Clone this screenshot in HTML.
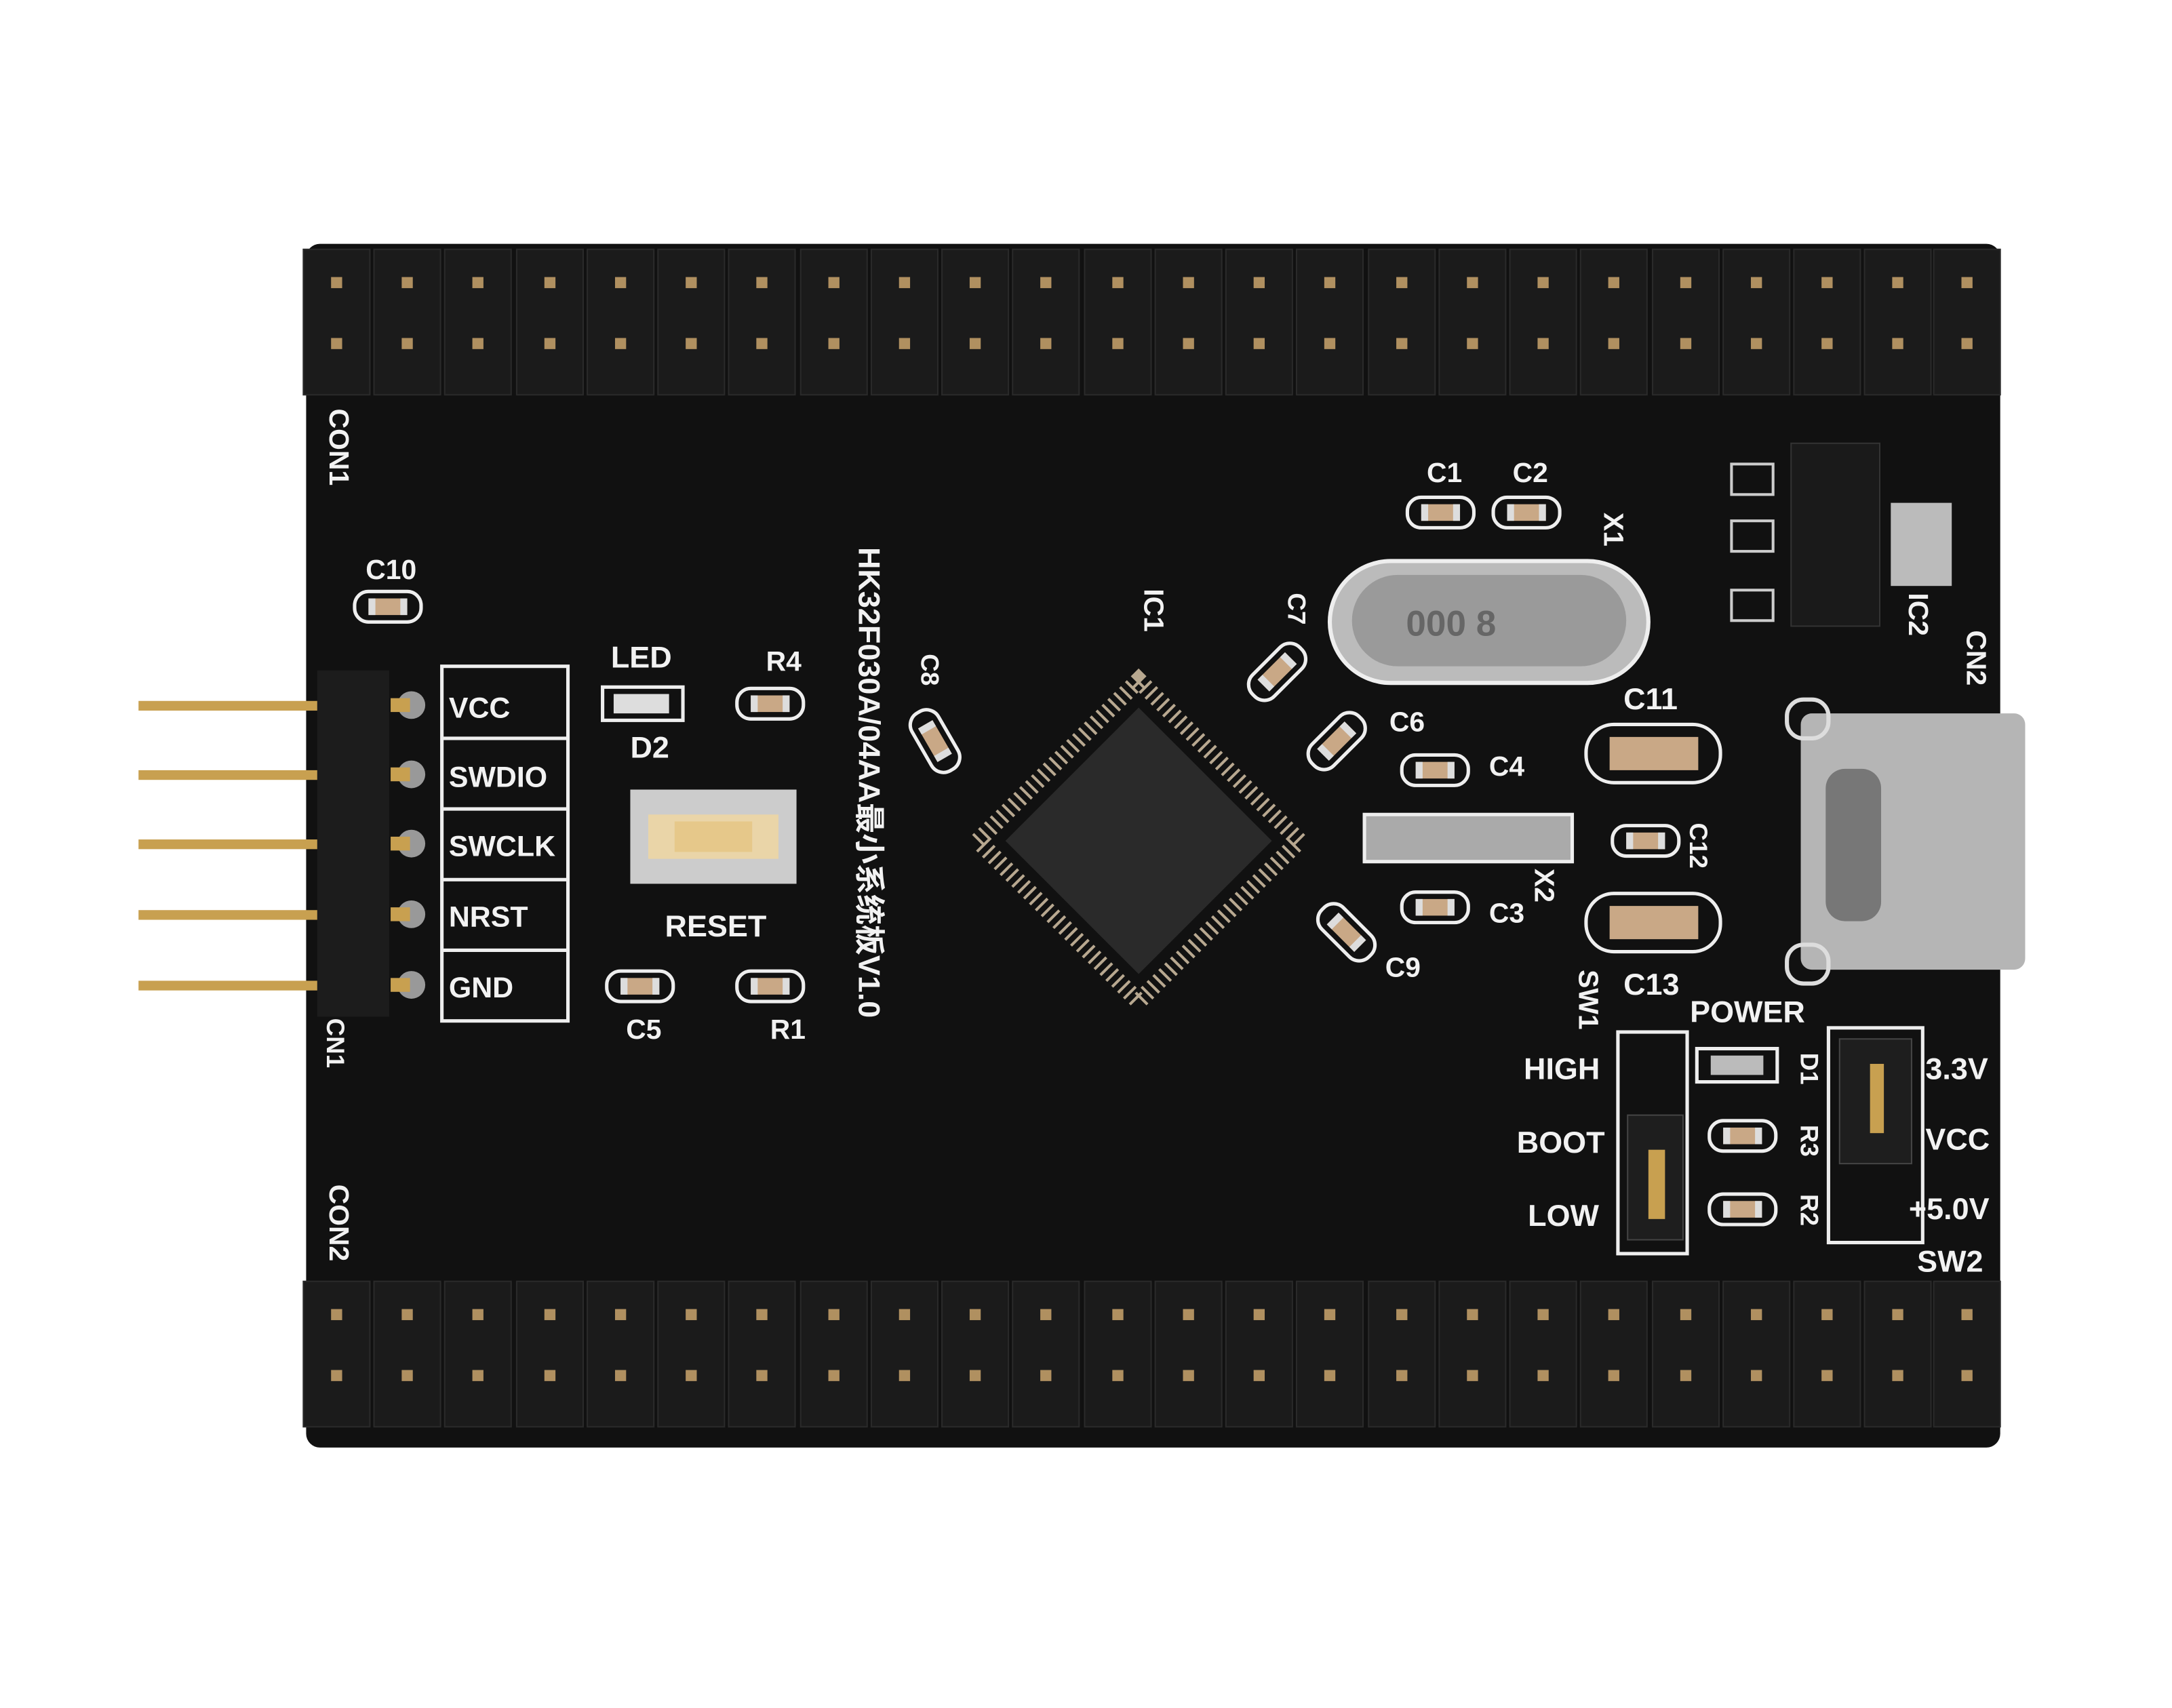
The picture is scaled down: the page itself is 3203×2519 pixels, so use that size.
<!DOCTYPE html>
<html><head><meta charset="utf-8"><style>
html,body{margin:0;padding:0;background:#fff;}
svg{display:block;}
text{font-family:"Liberation Sans","Noto Sans CJK SC",sans-serif;fill:#f2f2f2;font-weight:bold;}
</style></head><body>
<svg width="3203" height="2519" viewBox="0 0 1568 1233" preserveAspectRatio="none" xmlns="http://www.w3.org/2000/svg">
<defs>
<g id="pinT"><rect x="-24" y="0" width="48" height="105" fill="#1b1b1b" stroke="#2a2a2a"/><rect x="-4" y="20" width="8" height="8" fill="#b09060"/><rect x="-4" y="64" width="8" height="8" fill="#b09060"/></g>
<g id="chipcap"><rect x="-24" y="-11" width="48" height="22" rx="10" fill="none" stroke="#eee" stroke-width="2.5"/><rect x="-14" y="-6" width="28" height="12" fill="#c9a886"/><rect x="-14" y="-6" width="5" height="12" fill="#ddd"/><rect x="9" y="-6" width="5" height="12" fill="#ddd"/></g>
</defs>
<rect width="1568" height="1233" fill="#fff"/>
<rect x="221" y="176" width="1223" height="869" rx="10" fill="#111"/>
<g>
<use href="#pinT" x="243" y="180"/><use href="#pinT" x="294" y="180"/><use href="#pinT" x="345" y="180"/><use href="#pinT" x="397" y="180"/><use href="#pinT" x="448" y="180"/><use href="#pinT" x="499" y="180"/><use href="#pinT" x="550" y="180"/><use href="#pinT" x="602" y="180"/><use href="#pinT" x="653" y="180"/><use href="#pinT" x="704" y="180"/><use href="#pinT" x="755" y="180"/><use href="#pinT" x="807" y="180"/><use href="#pinT" x="858" y="180"/><use href="#pinT" x="909" y="180"/><use href="#pinT" x="960" y="180"/><use href="#pinT" x="1012" y="180"/><use href="#pinT" x="1063" y="180"/><use href="#pinT" x="1114" y="180"/><use href="#pinT" x="1165" y="180"/><use href="#pinT" x="1217" y="180"/><use href="#pinT" x="1268" y="180"/><use href="#pinT" x="1319" y="180"/><use href="#pinT" x="1370" y="180"/><use href="#pinT" x="1420" y="180"/>
</g>
<g transform="translate(0,745)">
<use href="#pinT" x="243" y="180"/><use href="#pinT" x="294" y="180"/><use href="#pinT" x="345" y="180"/><use href="#pinT" x="397" y="180"/><use href="#pinT" x="448" y="180"/><use href="#pinT" x="499" y="180"/><use href="#pinT" x="550" y="180"/><use href="#pinT" x="602" y="180"/><use href="#pinT" x="653" y="180"/><use href="#pinT" x="704" y="180"/><use href="#pinT" x="755" y="180"/><use href="#pinT" x="807" y="180"/><use href="#pinT" x="858" y="180"/><use href="#pinT" x="909" y="180"/><use href="#pinT" x="960" y="180"/><use href="#pinT" x="1012" y="180"/><use href="#pinT" x="1063" y="180"/><use href="#pinT" x="1114" y="180"/><use href="#pinT" x="1165" y="180"/><use href="#pinT" x="1217" y="180"/><use href="#pinT" x="1268" y="180"/><use href="#pinT" x="1319" y="180"/><use href="#pinT" x="1370" y="180"/><use href="#pinT" x="1420" y="180"/>
</g>
<text x="0" y="0" font-size="20" transform="translate(238,295) rotate(90)">CON1</text>
<text x="0" y="0" font-size="20" transform="translate(238,855) rotate(90)">CON2</text>
<text x="0" y="0" font-size="18" transform="translate(236,735) rotate(90)">CN1</text>
<g fill="#c8a050">
<rect x="100" y="506" width="130" height="7"/><rect x="100" y="556" width="130" height="7"/><rect x="100" y="606" width="130" height="7"/><rect x="100" y="657" width="130" height="7"/><rect x="100" y="708" width="130" height="7"/>
</g>
<rect x="229" y="484" width="52" height="250" fill="#1c1c1c"/>
<g fill="#999"><circle cx="297" cy="509" r="10"/><circle cx="297" cy="559" r="10"/><circle cx="297" cy="609" r="10"/><circle cx="297" cy="660" r="10"/><circle cx="297" cy="711" r="10"/></g>
<g fill="#c8a050"><rect x="282" y="504" width="14" height="10"/><rect x="282" y="554" width="14" height="10"/><rect x="282" y="604" width="14" height="10"/><rect x="282" y="655" width="14" height="10"/><rect x="282" y="706" width="14" height="10"/></g>
<g fill="none" stroke="#eee" stroke-width="2.5"><rect x="319" y="481" width="91" height="256"/><line x1="319" y1="533" x2="410" y2="533"/><line x1="319" y1="584" x2="410" y2="584"/><line x1="319" y1="635" x2="410" y2="635"/><line x1="319" y1="686" x2="410" y2="686"/></g>
<g font-size="21"><text x="324" y="518">VCC</text><text x="324" y="568">SWDIO</text><text x="324" y="618">SWCLK</text><text x="324" y="669">NRST</text><text x="324" y="720">GND</text></g>
<text x="264" y="418" font-size="20">C10</text><use href="#chipcap" x="280" y="438"/>
<text x="441" y="482" font-size="22">LED</text><text x="455" y="547" font-size="22">D2</text>
<rect x="435" y="496" width="58" height="24" fill="none" stroke="#eee" stroke-width="2.5"/><rect x="443" y="501" width="40" height="14" fill="#ddd"/>
<text x="553" y="484" font-size="20">R4</text><use href="#chipcap" x="556" y="508"/>
<rect x="455" y="570" width="120" height="68" fill="#ccc"/><rect x="468" y="588" width="94" height="32" fill="#ead5a8"/><rect x="487" y="593" width="56" height="22" fill="#e6c88a"/>
<text x="480" y="676" font-size="22">RESET</text>
<use href="#chipcap" x="462" y="712"/><use href="#chipcap" x="556" y="712"/>
<text x="452" y="750" font-size="20">C5</text><text x="556" y="750" font-size="20">R1</text>
<text x="0" y="0" font-size="22" transform="translate(620,395) rotate(90)">HK32F030A/04AA最小系统板V1.0</text>
<text x="0" y="0" font-size="20" transform="translate(826,425) rotate(90)">IC1</text>
<text x="0" y="0" font-size="18" transform="translate(665,472) rotate(90)">C8</text>
<g transform="translate(675,535) rotate(60)"><use href="#chipcap"/></g>
<g transform="translate(822,607) rotate(45)">
<rect x="-82" y="-82" width="164" height="164" fill="none" stroke="#b8a890" stroke-width="12" stroke-dasharray="2 4"/>
<rect x="-68" y="-68" width="136" height="136" fill="#2a2a2a"/>
</g>
<g transform="translate(922,485) rotate(-45)"><use href="#chipcap"/></g>
<text x="0" y="0" font-size="18" transform="translate(930,428) rotate(90)">C7</text>
<g transform="translate(965,535) rotate(-45)"><use href="#chipcap"/></g>
<text x="1003" y="528" font-size="20">C6</text>
<use href="#chipcap" x="1036" y="556"/><text x="1075" y="560" font-size="20">C4</text>
<use href="#chipcap" x="1036" y="655"/><text x="1075" y="666" font-size="20">C3</text>
<g transform="translate(972,673) rotate(45)"><use href="#chipcap"/></g><text x="1000" y="705" font-size="20">C9</text>
<text x="1030" y="348" font-size="20">C1</text><text x="1092" y="348" font-size="20">C2</text>
<use href="#chipcap" x="1040" y="370"/><use href="#chipcap" x="1102" y="370"/>
<text x="0" y="0" font-size="20" transform="translate(1158,370) rotate(90)">X1</text>
<rect x="960" y="405" width="230" height="88" rx="44" fill="#bbb" stroke="#eee" stroke-width="3"/>
<rect x="976" y="415" width="198" height="66" rx="33" fill="#9a9a9a"/>
<text x="1015" y="459" font-size="26" style="fill:#666">000 8</text>
<rect x="985" y="588" width="150" height="34" fill="#aaa" stroke="#eee" stroke-width="2.5"/>
<text x="0" y="0" font-size="20" transform="translate(1108,627) rotate(90)">X2</text>
<text x="1172" y="512" font-size="22">C11</text>
<rect x="1145" y="523" width="97" height="42" rx="20" fill="none" stroke="#eee" stroke-width="2.5"/><rect x="1162" y="532" width="64" height="24" fill="#c9a886"/>
<rect x="1145" y="645" width="97" height="42" rx="20" fill="none" stroke="#eee" stroke-width="2.5"/><rect x="1162" y="654" width="64" height="24" fill="#c9a886"/>
<use href="#chipcap" x="1188" y="607"/><text x="0" y="0" font-size="18" transform="translate(1220,594) rotate(90)">C12</text>
<text x="1172" y="718" font-size="22">C13</text>
<rect x="1293" y="320" width="64" height="132" fill="#1a1a1a" stroke="#333"/>
<rect x="1250" y="335" width="30" height="22" fill="none" stroke="#ccc" stroke-width="2"/><rect x="1250" y="376" width="30" height="22" fill="none" stroke="#ccc" stroke-width="2"/><rect x="1250" y="426" width="30" height="22" fill="none" stroke="#ccc" stroke-width="2"/>
<rect x="1365" y="363" width="44" height="60" fill="#bbb"/>
<text x="0" y="0" font-size="20" transform="translate(1378,428) rotate(90)">IC2</text>
<text x="0" y="0" font-size="20" transform="translate(1420,455) rotate(90)">CN2</text>
<rect x="1300" y="515" width="162" height="185" rx="8" fill="#b5b5b5"/>
<rect x="1318" y="555" width="40" height="110" rx="14" fill="#777"/>
<rect x="1290" y="505" width="30" height="28" rx="12" fill="none" stroke="#ddd" stroke-width="3"/><rect x="1290" y="682" width="30" height="28" rx="12" fill="none" stroke="#ddd" stroke-width="3"/>
<text x="0" y="0" font-size="20" transform="translate(1140,700) rotate(90)">SW1</text>
<text x="1220" y="738" font-size="22">POWER</text>
<rect x="1225" y="757" width="58" height="24" fill="none" stroke="#eee" stroke-width="2.5"/><rect x="1235" y="762" width="38" height="14" fill="#bbb"/>
<text x="0" y="0" font-size="18" transform="translate(1300,760) rotate(90)">D1</text>
<text x="1100" y="779" font-size="22">HIGH</text><text x="1095" y="832" font-size="22">BOOT</text><text x="1103" y="885" font-size="22">LOW</text>
<rect x="1168" y="745" width="50" height="160" fill="none" stroke="#eee" stroke-width="2.5"/>
<rect x="1175" y="805" width="40" height="90" fill="#1e1e1e" stroke="#444"/><rect x="1190" y="830" width="12" height="50" fill="#c8a050"/>
<use href="#chipcap" x="1258" y="820"/><use href="#chipcap" x="1258" y="873"/>
<text x="0" y="0" font-size="18" transform="translate(1300,812) rotate(90)">R3</text><text x="0" y="0" font-size="18" transform="translate(1300,862) rotate(90)">R2</text>
<rect x="1320" y="742" width="68" height="155" fill="none" stroke="#eee" stroke-width="2.5"/>
<rect x="1328" y="750" width="52" height="90" fill="#1e1e1e" stroke="#444"/><rect x="1350" y="768" width="10" height="50" fill="#c8a050"/>
<text x="1390" y="779" font-size="22">3.3V</text><text x="1390" y="830" font-size="22">VCC</text><text x="1378" y="880" font-size="22">+5.0V</text>
<text x="1384" y="918" font-size="22">SW2</text>
</svg>
</body></html>
